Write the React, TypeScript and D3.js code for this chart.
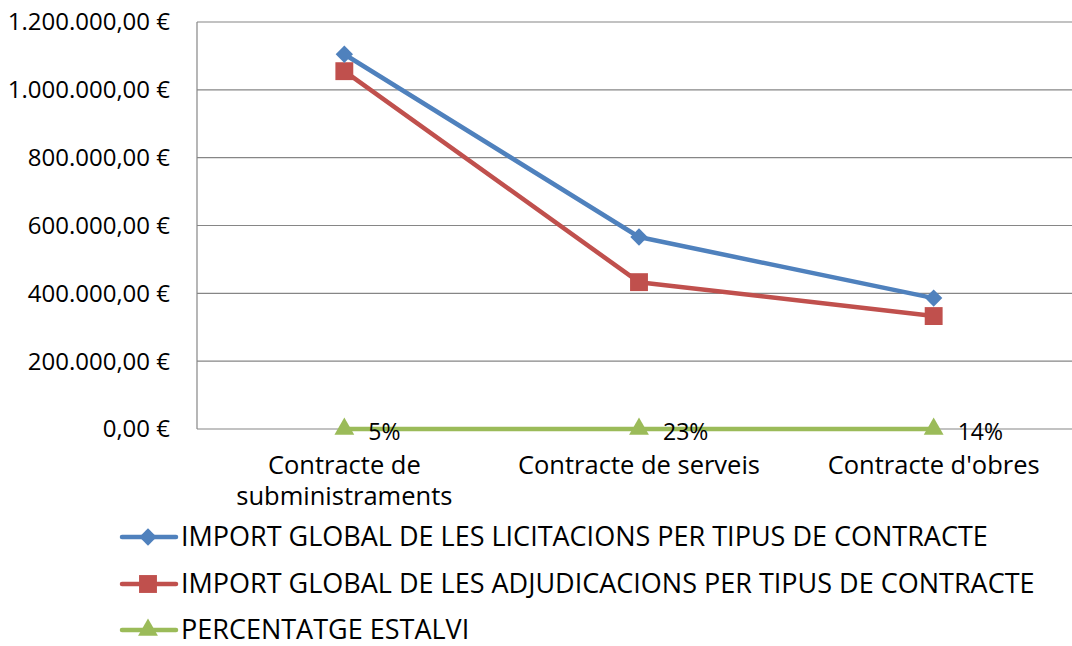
import { useEffect, useRef } from 'react';
import * as d3 from 'd3';

const categories = ['Contracte de subministraments', 'Contracte de serveis', "Contracte d'obres"];
const categoryLines = [['Contracte de', 'subministraments'], ['Contracte de serveis'], ["Contracte d'obres"]];
const licitacions = [1105000, 566000, 386000];
const adjudicacions = [1055000, 433000, 333000];
const estalvi = [0.05, 0.23, 0.14];
const estalviLabels = ['5%', '23%', '14%'];
const yTicks = [0, 200000, 400000, 600000, 800000, 1000000, 1200000];
const seriesNames = [
  'IMPORT GLOBAL DE LES LICITACIONS PER TIPUS DE CONTRACTE',
  'IMPORT GLOBAL DE LES ADJUDICACIONS PER TIPUS DE CONTRACTE',
  'PERCENTATGE ESTALVI',
];

const BLUE = '#4F81BD';
const RED = '#C0504D';
const GREEN = '#9BBB59';
const FONT = 'Open Sans, Noto Sans, sans-serif';

export default function App() {
  const svgRef = useRef<SVGSVGElement>(null);

  useEffect(() => {
    if (!svgRef.current) return;
    const svg = d3.select(svgRef.current);
    svg.selectAll('*').remove();

    const left = 197;
    const right = 1081;
    const top = 22;
    const bottom = 429;

    const x = d3.scaleBand<string>().domain(categories).range([left, right]);
    const cx = (c: string) => (x(c) || 0) + x.bandwidth() / 2;
    const y = d3.scaleLinear().domain([0, 1200000]).range([bottom, top]);

    const fmt = (v: number) =>
      d3.format(',.2f')(v).replace(/,/g, '#').replace('.', ',').replace(/#/g, '.') + ' €';

    // grid lines
    svg
      .append('g')
      .selectAll('line')
      .data(yTicks)
      .enter()
      .append('line')
      .attr('x1', left)
      .attr('x2', right)
      .attr('y1', (d) => y(d))
      .attr('y2', (d) => y(d))
      .attr('stroke', '#868686')
      .attr('stroke-width', 1.2);

    // y axis line
    svg
      .append('line')
      .attr('x1', left)
      .attr('x2', left)
      .attr('y1', top)
      .attr('y2', bottom)
      .attr('stroke', '#868686')
      .attr('stroke-width', 1.2);

    // y tick labels
    svg
      .append('g')
      .selectAll('text')
      .data(yTicks)
      .enter()
      .append('text')
      .attr('x', 170)
      .attr('y', (d) => y(d))
      .attr('dy', '0.35em')
      .attr('text-anchor', 'end')
      .attr('font-family', FONT)
      .attr('font-size', 24)
      .attr('fill', '#000')
      .text((d) => fmt(d));

    // category labels
    categories.forEach((c, i) => {
      categoryLines[i].forEach((ln, j) => {
        svg
          .append('text')
          .attr('x', cx(c))
          .attr('y', 474 + j * 31)
          .attr('text-anchor', 'middle')
          .attr('font-family', FONT)
          .attr('font-size', 25.5)
          .attr('fill', '#000')
          .text(ln);
      });
    });

    const drawLine = (vals: number[], color: string) => {
      const line = d3
        .line<number>()
        .x((_, i) => cx(categories[i]))
        .y((d) => y(d));
      svg
        .append('path')
        .datum(vals)
        .attr('fill', 'none')
        .attr('stroke', color)
        .attr('stroke-width', 4.5)
        .attr('stroke-linejoin', 'round')
        .attr('d', line);
    };

    const diamond = d3.symbol(d3.symbolSquare, 150)();
    const square = d3.symbol(d3.symbolSquare, 320)();
    const triangle = d3.symbol(d3.symbolTriangle, 170)();

    drawLine(estalvi, GREEN);
    drawLine(adjudicacions, RED);
    drawLine(licitacions, BLUE);

    const drawMarkers = (vals: number[], path: string | null, color: string, rot = 0) => {
      svg
        .append('g')
        .selectAll('path')
        .data(vals)
        .enter()
        .append('path')
        .attr('d', path)
        .attr('fill', color)
        .attr('transform', (d, i) => `translate(${cx(categories[i])},${y(d)}) rotate(${rot})`);
    };

    drawMarkers(estalvi, triangle, GREEN);
    drawMarkers(adjudicacions, square, RED);
    drawMarkers(licitacions, diamond, BLUE, 45);

    // percent labels
    svg
      .append('g')
      .selectAll('text')
      .data(estalvi)
      .enter()
      .append('text')
      .attr('x', (_, i) => cx(categories[i]) + 24)
      .attr('y', (d) => y(d) + 3)
      .attr('dy', '0.35em')
      .attr('font-family', FONT)
      .attr('font-size', 23)
      .attr('fill', '#000')
      .text((_, i) => estalviLabels[i]);

    // legend
    const legend = [
      { name: seriesNames[0], color: BLUE, sym: diamond, rot: 45 },
      { name: seriesNames[1], color: RED, sym: square, rot: 0 },
      { name: seriesNames[2], color: GREEN, sym: triangle, rot: 0 },
    ];
    const legendY = [537, 584, 630];
    legend.forEach((l, i) => {
      const g = svg.append('g').attr('transform', `translate(0,${legendY[i]})`);
      g.append('line')
        .attr('x1', 122)
        .attr('x2', 176)
        .attr('stroke', l.color)
        .attr('stroke-width', 4.5)
        .attr('stroke-linecap', 'round');
      g.append('path')
        .attr('d', l.sym)
        .attr('fill', l.color)
        .attr('transform', `translate(148,0) rotate(${l.rot})`);
      g.append('text')
        .attr('x', 181)
        .attr('dy', '0.35em')
        .attr('font-family', FONT)
        .attr('font-size', 27)
        .attr('fill', '#000')
        .text(l.name);
    });
  }, []);

  return (
    <div style={{ position: 'absolute', left: 0, top: 0 }}>
      <svg ref={svgRef} width={1072} height={646} style={{ display: 'block', background: '#fff' }} />
    </div>
  );
}
